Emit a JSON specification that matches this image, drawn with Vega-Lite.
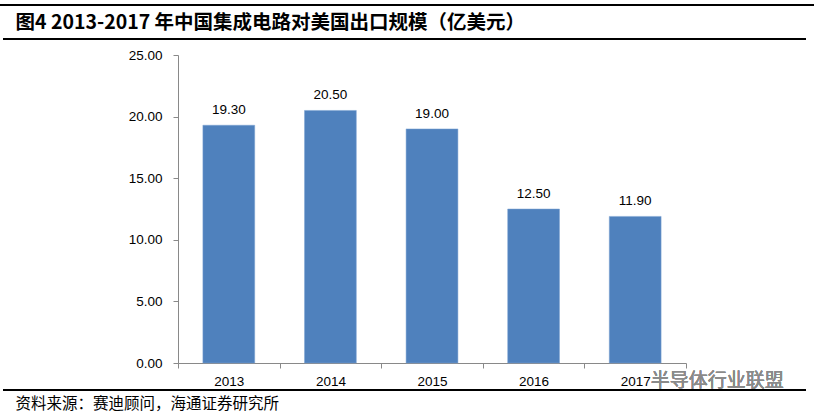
{
  "$schema": "https://vega.github.io/schema/vega-lite/v6.json",
  "autosize": {"type": "none"},
  "width": 508,
  "height": 308,
  "padding": {"left": 178, "top": 55, "right": 132, "bottom": 55},
  "background": "white",
  "config": {"view": {"stroke": null}},
  "data": {
    "values": [
      {"year": "2013", "value": 19.3},
      {"year": "2014", "value": 20.5},
      {"year": "2015", "value": 19.0},
      {"year": "2016", "value": 12.5},
      {"year": "2017", "value": 11.9}
    ]
  },
  "encoding": {
    "x": {
      "field": "year",
      "type": "nominal",
      "scale": {"paddingInner": 0, "paddingOuter": 0},
      "axis": {
        "labelAngle": 0,
        "tickBand": "extent",
        "tickSize": 5,
        "tickColor": "#898989",
        "domainColor": "#898989",
        "labelFont": "Liberation Sans",
        "labelFontSize": 13.5,
        "labelColor": "#000000",
        "labelPadding": 6,
        "title": "资料来源：赛迪顾问，海通证券研究所",
        "titleFont": "Noto Sans CJK SC",
        "titleFontSize": 15.5,
        "titleFontWeight": "normal",
        "titleColor": "#000000",
        "titleAlign": "left",
        "titleBaseline": "middle",
        "titleAnchor": "start",
        "titleX": -163,
        "titleY": 40
      }
    },
    "y": {
      "field": "value",
      "type": "quantitative",
      "scale": {"domain": [0, 25]},
      "axis": {
        "values": [0, 5, 10, 15, 20, 25],
        "format": ".2f",
        "grid": false,
        "tickSize": 5,
        "tickColor": "#898989",
        "domainColor": "#898989",
        "labelFont": "Liberation Sans",
        "labelFontSize": 13.5,
        "labelColor": "#000000",
        "labelPadding": 11,
        "title": "图4  2013-2017 年中国集成电路对美国出口规模（亿美元）",
        "titleFont": "Noto Sans CJK SC",
        "titleFontSize": 19.5,
        "titleFontWeight": "bold",
        "titleColor": "#000000",
        "titleAngle": 0,
        "titleAlign": "left",
        "titleBaseline": "middle",
        "titleX": -163,
        "titleY": -33
      }
    }
  },
  "layer": [
    {
      "mark": {"type": "bar", "width": {"band": 0.51}, "color": "#4F81BD", "stroke": "#7DA3D3", "strokeWidth": 0.5}
    },
    {
      "mark": {"type": "text", "baseline": "bottom", "dy": -8, "font": "Liberation Sans", "fontSize": 13.5, "color": "#000000"},
      "encoding": {"text": {"field": "value", "type": "quantitative", "format": ".2f"}}
    },
    {
      "mark": {"type": "text", "text": "半导体行业联盟", "font": "Noto Sans CJK SC", "fontSize": 19, "color": "#8a8a8a", "baseline": "middle", "align": "center", "dx": 82, "dy": 18},
      "encoding": {"x": {"datum": "2017"}, "y": {"datum": 0}, "text": null}
    },
    {
      "mark": {"type": "rule", "color": "#000000", "strokeWidth": 2},
      "encoding": {"x": {"value": -178}, "x2": {"value": 636}, "y": {"value": -50}}
    },
    {
      "mark": {"type": "rule", "color": "#000000", "strokeWidth": 1.5},
      "encoding": {"x": {"value": -175}, "x2": {"value": 628}, "y": {"value": -16}}
    },
    {
      "mark": {"type": "rule", "color": "#000000", "strokeWidth": 1.5},
      "encoding": {"x": {"value": -175}, "x2": {"value": 628}, "y": {"value": 335}}
    }
  ]
}
